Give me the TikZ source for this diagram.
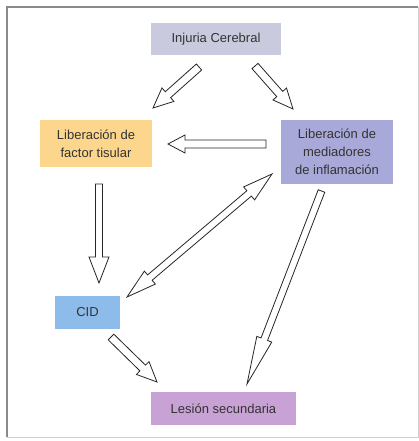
\documentclass[tikz,border=0pt]{standalone}
\usepackage{fontspec}
\setmainfont{Liberation Sans}
\usetikzlibrary{calc}
\definecolor{cInj}{HTML}{CACADE}
\definecolor{cFac}{HTML}{FCD68C}
\definecolor{cMed}{HTML}{A9A9D9}
\definecolor{cCid}{HTML}{8DBCEA}
\definecolor{cLes}{HTML}{C8A2D4}
\definecolor{cTxt}{HTML}{333333}
\definecolor{cFrame}{HTML}{8A8A8A}
\newcommand\blockarrow[5]{%
  \path ($(#2)!#5!(#1)$) coordinate (hh);
  \draw[arr] ($(#1)!#3!90:(#2)$) -- ($(hh)!#3!90:(#2)$) -- ($(hh)!#4!90:(#2)$) -- (#2)
    -- ($(hh)!#4!-90:(#2)$) -- ($(hh)!#3!-90:(#2)$) -- ($(#1)!#3!-90:(#2)$) -- cycle;}
\newcommand\dblblockarrow[5]{%
  \path ($(#2)!#5!(#1)$) coordinate (ha) ($(#1)!#5!(#2)$) coordinate (hb);
  \draw[arr] (#1) -- ($(hb)!#4!90:(#2)$) -- ($(hb)!#3!90:(#2)$) -- ($(ha)!#3!90:(#2)$)
    -- ($(ha)!#4!90:(#2)$) -- (#2) -- ($(ha)!#4!-90:(#2)$) -- ($(ha)!#3!-90:(#2)$)
    -- ($(hb)!#3!-90:(#2)$) -- ($(hb)!#4!-90:(#2)$) -- cycle;}
\begin{document}
\begin{tikzpicture}[x=1pt,y=-1pt,
  box/.style={inner sep=0pt, align=center, text=cTxt,
    font=\fontsize{13}{18}\selectfont},
  arr/.style={draw=black!85, line width=0.8pt, fill=white, line join=miter}]
\useasboundingbox[fill=white] (0,0) rectangle (419,441);
% frame
\draw[cFrame!40, line width=1pt] (418,7) -- (418,437) -- (7,437);
\draw[cFrame, line width=1.6pt] (7,437) -- (7,7) -- (418,7);
% boxes
\node[box, fill=cInj, minimum width=130pt, minimum height=32pt] (inj) at (216,39) {Injuria Cerebral};
\node[box, fill=cFac, minimum width=112pt, minimum height=47pt] (fac) at (96,143.5) {Liberación de\\factor tisular};
\node[box, fill=cMed, minimum width=112pt, minimum height=64pt] (med) at (337,152) {Liberación de\\mediadores\\de inflamación};
\node[box, fill=cCid, minimum width=65pt, minimum height=33pt] (cid) at (87.5,312.5) {CID};
\node[box, fill=cLes, minimum width=145pt, minimum height=33pt] (les) at (223.5,408.5) {Lesión secundaria};
% arrow end points
\coordinate (injfacT) at (199,67);
\coordinate (injfacP) at (153,108);
\coordinate (injmedT) at (255,66);
\coordinate (injmedP) at (293,109);
\coordinate (medfacT) at (266,144);
\coordinate (medfacP) at (168,144);
\coordinate (faccidT) at (99,184);
\coordinate (faccidP) at (99,283);
\coordinate (cidmedA) at (127,297);
\coordinate (cidmedB) at (272,174);
\coordinate (medlesT) at (321.5,191);
\coordinate (medlesP) at (247,384);
\coordinate (cidlesT) at (111,337);
\coordinate (cidlesP) at (157,382);
% arrows
\blockarrow{injfacT}{injfacP}{4pt}{9pt}{20pt}
\blockarrow{injmedT}{injmedP}{4pt}{9pt}{20pt}
\blockarrow{medfacT}{medfacP}{4pt}{9pt}{17pt}
\blockarrow{faccidT}{faccidP}{3.5pt}{10pt}{26pt}
\dblblockarrow{cidmedA}{cidmedB}{3.5pt}{8.5pt}{30pt}
\blockarrow{medlesT}{medlesP}{3.5pt}{8pt}{48pt}
\blockarrow{cidlesT}{cidlesP}{4pt}{9pt}{20pt}
\end{tikzpicture}
\end{document}
